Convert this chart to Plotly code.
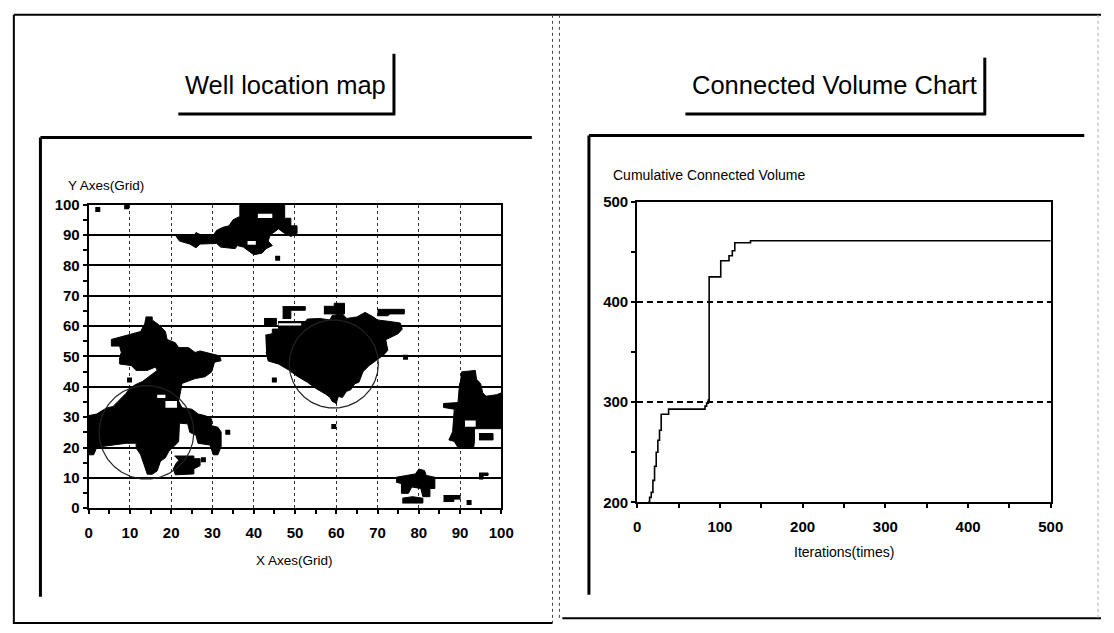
import numpy as np
import plotly.graph_objects as go

W, H = 1114, 633

# ---------------- Connected Volume Chart data ----------------
ITERATIONS = [13, 15, 17, 19, 21, 23, 25, 27, 29, 38, 82, 84, 86, 87, 101, 111, 115, 118, 137, 500]
CONNECTED_VOLUME = [200, 205, 210, 222, 236, 250, 262, 272, 288, 293, 296, 299, 302, 425,
                    441, 446, 451, 459, 461, 461]

# ---------------- Well location map data (grid units) ----------------
# connected sand bodies, outlined cell by cell
BLOB_WEST_X = [13.8, 15.4, 15.4, 17.0, 18.6, 19.0, 21.0, 21.8, 24.2, 25.8, 27.0, 29.8, 31.7, 32.1,
               30.5, 29.8, 28.2, 25.8, 22.6, 22.2, 21.8, 22.6, 25.0, 26.6, 28.2, 29.8, 29.8, 31.3,
               32.1, 32.1, 31.3, 30.2, 29.4, 26.5, 26.0, 24.5, 24.0, 22.0, 21.8, 19.4, 18.6, 17.4,
               16.6, 15.4, 14.2, 13.4, 12.6, 11.5, 11.5, 9.1, 3.1, 1.9, 1.2, 0.0, 0.0, 1.9, 3.1,
               4.3, 5.9, 7.5, 9.1, 9.9, 11.5, 13.0, 15.0, 16.6, 16.2, 14.2, 11.5, 10.3, 7.5, 7.5,
               7.9, 7.5, 5.5, 5.5, 9.9, 12.6, 13.4]
BLOB_WEST_Y = [63.0, 63.0, 62.0, 60.4, 58.2, 55.6, 54.5, 52.9, 52.9, 51.3, 51.8, 50.7, 50.2, 48.6,
               48.1, 44.9, 43.3, 42.7, 41.1, 37.9, 35.3, 33.1, 32.6, 31.0, 30.5, 29.4, 27.2, 26.7,
               25.1, 20.3, 17.6, 17.6, 20.8, 21.4, 24.0, 25.0, 27.8, 28.0, 21.9, 18.7, 16.6, 15.5,
               12.3, 11.2, 11.2, 14.4, 17.6, 19.8, 21.4, 21.4, 20.3, 19.8, 17.6, 17.6, 30.5, 31.0,
               32.0, 33.0, 33.5, 35.8, 37.9, 39.5, 40.8, 41.7, 43.8, 45.4, 46.5, 45.4, 45.4, 47.0,
               47.5, 49.7, 51.3, 53.4, 53.4, 55.6, 57.2, 58.2, 60.4]

BLOB_SOUTH_X = [20.8, 25.5, 25.5, 27.0, 27.0, 25.5, 25.5, 21.0, 20.5, 21.3, 21.8]
BLOB_SOUTH_Y = [17.2, 17.2, 16.3, 16.3, 14.0, 13.0, 11.3, 11.0, 13.0, 15.0, 15.6]

BLOB_NORTH_X = [36.5, 47.5, 47.5, 49.0, 49.0, 50.5, 50.5, 49.0, 47.5, 46.0, 44.0, 43.5, 44.5, 43.0,
                42.0, 40.0, 38.5, 37.5, 36.0, 35.5, 32.0, 31.0, 27.0, 26.0, 24.5, 22.0, 21.2, 25.5,
                26.0, 27.5, 30.0, 31.0, 32.5, 34.0, 35.0, 36.5]
BLOB_NORTH_Y = [100, 100, 95.5, 95.5, 93.0, 93.0, 90.5, 89.5, 90.5, 92.0, 90.0, 88.0, 86.5, 85.5,
                84.0, 83.5, 85.0, 86.0, 86.5, 85.5, 86.0, 87.2, 87.0, 85.8, 87.0, 88.0, 89.5, 89.5,
                90.8, 89.8, 89.5, 91.5, 92.5, 93.0, 95.0, 96.0]

BLOB_CENTRE_X = [42.8, 44.5, 44.5, 46.0, 46.0, 52.5, 53.0, 56.0, 58.5, 59.0, 61.5, 62.5, 65.0,
                 67.0, 69.0, 70.0, 73.0, 75.5, 76.0, 75.0, 73.5, 72.0, 72.5, 71.5, 70.0, 68.0,
                 66.5, 65.5, 64.5, 63.5, 62.5, 61.5, 60.5, 60.0, 59.0, 58.5, 57.5, 55.0, 53.0,
                 50.5, 48.5, 46.0, 43.5, 43.0]
BLOB_CENTRE_Y = [57.0, 57.5, 59.0, 59.0, 61.5, 61.5, 62.3, 62.5, 62.0, 63.5, 64.0, 62.5, 63.0,
                 64.5, 63.0, 62.0, 61.5, 61.0, 59.0, 57.5, 56.5, 55.5, 52.0, 50.5, 49.0, 47.0,
                 45.0, 41.5, 41.0, 39.0, 38.5, 36.5, 36.8, 34.5, 35.2, 36.5, 37.5, 39.5, 41.5,
                 43.5, 45.5, 47.5, 48.5, 51.5]

PATCH_CENTRE_A_X = [42.5, 45.5, 45.5, 42.5]
PATCH_CENTRE_A_Y = [60.5, 60.5, 62.5, 62.5]
PATCH_CENTRE_B_X = [47.0, 49.0, 49.0, 52.5, 52.5, 47.0]
PATCH_CENTRE_B_Y = [62.5, 62.5, 65.2, 65.2, 66.4, 66.4]
PATCH_CENTRE_C_X = [57.0, 59.5, 59.5, 62.0, 62.0, 57.0]
PATCH_CENTRE_C_Y = [66.5, 66.5, 67.5, 67.5, 64.0, 64.0]
PATCH_CENTRE_D_X = [70.0, 72.5, 73.0, 76.5, 76.5, 70.0]
PATCH_CENTRE_D_Y = [63.4, 63.4, 64.0, 64.0, 65.5, 65.5]

BLOB_EAST_X = [90.3, 93.7, 94.0, 95.0, 95.5, 96.3, 98.9, 100.0, 100.0, 93.5, 93.5, 93.3, 89.5,
               88.6, 87.3, 88.2, 88.6, 86.0, 86.0, 89.5, 89.9]
BLOB_EAST_Y = [44.9, 45.4, 42.5, 41.0, 38.0, 36.9, 37.4, 38.0, 26.2, 26.2, 22.0, 20.0, 20.0,
               22.0, 22.5, 25.2, 32.6, 33.2, 34.5, 34.8, 41.2]
BAR_EAST_X = [94.6, 98.0, 98.0, 94.6]
BAR_EAST_Y = [22.5, 22.5, 24.6, 24.6]

BLOB_SE_X = [74.5, 79.2, 80.0, 81.4, 81.8, 83.9, 83.9, 82.7, 82.7, 81.0, 80.5, 78.3, 77.5, 75.8,
             75.8, 74.5]
BLOB_SE_Y = [10.2, 11.3, 12.9, 12.4, 10.8, 10.2, 6.5, 6.5, 3.8, 3.8, 6.5, 7.0, 4.9, 4.9, 8.1, 8.6]
PATCH_SE_X = [76.0, 81.0, 81.0, 78.5, 76.0]
PATCH_SE_Y = [1.7, 1.7, 3.3, 3.8, 3.3]
PATCH_S_X = [86.0, 88.5, 88.5, 90.0, 90.0, 86.0]
PATCH_S_Y = [2.2, 2.2, 3.0, 3.0, 4.2, 4.2]
PATCH_E_X = [94.6, 95.6, 95.6, 96.8, 96.8, 94.6]
PATCH_E_Y = [9.6, 9.6, 10.8, 10.8, 11.6, 11.6]

# unconnected cells inside bodies
HOLES = [
    ([41.0, 44.5, 44.5, 41.0], [95.6, 95.6, 97.0, 97.0]),
    ([38.5, 40.5, 40.5, 38.5], [86.8, 86.8, 88.0, 88.0]),
    ([16.6, 18.6, 18.6, 16.6], [36.3, 36.3, 37.4, 37.4]),
    ([18.6, 21.4, 21.4, 18.6], [33.1, 33.1, 35.3, 35.3]),
    ([91.2, 93.8, 93.8, 91.2], [26.8, 26.8, 28.9, 28.9]),
    ([46.0, 51.5, 51.5, 46.0], [60.2, 60.2, 60.9, 60.9]),
]

# single isolated cells
CELL_X = [2.2, 9.2, 45.8, 45.0, 59.4, 33.7, 27.8, 9.9, 76.8, 92.2]
CELL_Y = [98.4, 99.3, 82.3, 42.2, 26.9, 25.0, 16.0, 42.2, 49.7, 1.9]

# well drainage circles: centre (grid) and radius (grid units, vertical)
WELL_X = [14.0, 59.4]
WELL_Y = [25.0, 47.5]
WELL_R = [15.4, 14.5]

# ---------------- layout geometry (pixels) ----------------
LEFT_BOX = (86, 505, 201, 513)     # x0, x1, ytop, ybottom
RIGHT_BOX = (643, 1063, 198, 507)


def dom_x(b):
    return [b[0] / W, b[1] / W]


def dom_y(b):
    return [1 - b[3] / H, 1 - b[2] / H]


def px(x):
    return x / W


def py(y):
    return 1 - y / H


SANS = "Liberation Sans, Arial, sans-serif"
tick_font = dict(family=SANS, size=15, color="black", weight="bold")

fig = go.Figure()

blobs = [
    (BLOB_WEST_X, BLOB_WEST_Y), (BLOB_SOUTH_X, BLOB_SOUTH_Y), (BLOB_NORTH_X, BLOB_NORTH_Y),
    (BLOB_CENTRE_X, BLOB_CENTRE_Y), (PATCH_CENTRE_A_X, PATCH_CENTRE_A_Y),
    (PATCH_CENTRE_B_X, PATCH_CENTRE_B_Y), (PATCH_CENTRE_C_X, PATCH_CENTRE_C_Y),
    (PATCH_CENTRE_D_X, PATCH_CENTRE_D_Y), (BLOB_EAST_X, BLOB_EAST_Y),
    (BLOB_SE_X, BLOB_SE_Y), (PATCH_SE_X, PATCH_SE_Y), (PATCH_S_X, PATCH_S_Y),
    (PATCH_E_X, PATCH_E_Y),
]
for bx, by in blobs:
    fig.add_trace(go.Scatter(x=bx, y=by, mode="lines", fill="toself", fillcolor="black",
                             line=dict(color="black", width=1), hoverinfo="skip",
                             showlegend=False, xaxis="x", yaxis="y"))
for hx, hy in HOLES:
    fig.add_trace(go.Scatter(x=hx, y=hy, mode="lines", fill="toself", fillcolor="white",
                             line=dict(color="white", width=0), hoverinfo="skip",
                             showlegend=False, xaxis="x", yaxis="y"))
fig.add_trace(go.Scatter(x=BAR_EAST_X, y=BAR_EAST_Y, mode="lines", fill="toself",
                         fillcolor="black", line=dict(color="black", width=1),
                         hoverinfo="skip", showlegend=False, xaxis="x", yaxis="y"))
fig.add_trace(go.Scatter(x=CELL_X, y=CELL_Y, mode="markers",
                         marker=dict(symbol="square", size=5, color="black"),
                         hoverinfo="skip", showlegend=False, xaxis="x", yaxis="y"))

# circles are round on screen, so convert the vertical radius to x grid units
ppu_x = (LEFT_BOX[1] - LEFT_BOX[0]) / 100.0
ppu_y = (LEFT_BOX[3] - LEFT_BOX[2]) / 100.0
theta = np.linspace(0, 2 * np.pi, 181)
for cx, cy, r in zip(WELL_X, WELL_Y, WELL_R):
    rx = r * ppu_y / ppu_x
    fig.add_trace(go.Scatter(x=cx + rx * np.cos(theta), y=cy + r * np.sin(theta), mode="lines",
                             line=dict(color="#222", width=1.2), hoverinfo="skip",
                             showlegend=False, xaxis="x", yaxis="y"))

fig.add_trace(go.Scatter(x=ITERATIONS, y=CONNECTED_VOLUME, mode="lines", line_shape="hv",
                         line=dict(color="black", width=1.6), hoverinfo="skip",
                         showlegend=False, xaxis="x2", yaxis="y2"))

axis_common = dict(showline=True, linecolor="black", linewidth=2, mirror=True,
                   zeroline=False, ticks="outside", ticklen=4, tickwidth=1.5,
                   tickcolor="black", tickfont=tick_font, fixedrange=True)
inner_ticks = dict(showline=False, showgrid=False, zeroline=False, ticks="inside", ticklen=4,
                   tickwidth=1.5, tickcolor="black", showticklabels=False, fixedrange=True)

fig.update_layout(
    width=W, height=H, margin=dict(l=0, r=0, t=0, b=0),
    paper_bgcolor="white", plot_bgcolor="white", showlegend=False,
    xaxis=dict(domain=dom_x(LEFT_BOX), anchor="y", range=[0, 100], dtick=10, tick0=0,
               showgrid=True, gridcolor="#333", griddash="dot", gridwidth=1,
               ticklabelstandoff=6,
               minor=dict(dtick=5, ticks="outside", ticklen=4, tickwidth=1.5,
                          tickcolor="black", showgrid=False), **axis_common),
    yaxis=dict(domain=dom_y(LEFT_BOX), anchor="x", range=[0, 100], dtick=10, tick0=0,
               showgrid=True, gridcolor="black", gridwidth=1.5,
               minor=dict(dtick=5, ticks="outside", ticklen=4, tickwidth=1.5,
                          tickcolor="black", showgrid=False), **axis_common),
    xaxis3=dict(overlaying="x", anchor="y", range=[0, 100], dtick=5, tick0=0, **inner_ticks),
    yaxis3=dict(overlaying="y", anchor="x", range=[0, 100], dtick=5, tick0=0, **inner_ticks),
    xaxis2=dict(domain=dom_x(RIGHT_BOX), anchor="y2", range=[0, 500], dtick=100, tick0=0,
                showgrid=False, ticklabelstandoff=6,
                minor=dict(dtick=50, ticks="outside", ticklen=4, tickwidth=1.5,
                           tickcolor="black", showgrid=False), **axis_common),
    yaxis2=dict(domain=dom_y(RIGHT_BOX), anchor="x2", range=[200, 500], dtick=100, tick0=200,
                showgrid=True, gridcolor="black", gridwidth=1.5, griddash="6px,4px",
                minor=dict(dtick=50, ticks="outside", ticklen=4, tickwidth=1.5,
                           tickcolor="black", showgrid=False), **axis_common),
    xaxis4=dict(overlaying="x2", anchor="y2", range=[0, 500], dtick=50, tick0=0, **inner_ticks),
    yaxis4=dict(overlaying="y2", anchor="x2", range=[200, 500], dtick=50, tick0=200,
                **inner_ticks),
)

# panel frames and title plates
shapes = []


def seg(x0, y0, x1, y1, width=2, dash="solid", color="black"):
    shapes.append(dict(type="line", xref="paper", yref="paper", x0=px(x0), y0=py(y0),
                       x1=px(x1), y1=py(y1), line=dict(color=color, width=width, dash=dash)))


seg(10, 6, 1114, 6, 2)
seg(10, 6, 10, 632, 2)
seg(10, 631, 557, 631, 2)
seg(557, 6, 557, 631, 1, "dot", "#444")
seg(564, 6, 564, 626, 1, "dot", "#444")
seg(567, 626, 1114, 626, 2)
seg(1111, 6, 1111, 626, 1, "dot", "#aaa")
# title plates
seg(177, 108, 397, 108, 3)
seg(396, 46, 396, 109, 3)
seg(692, 108, 997, 108, 3)
seg(996, 50, 996, 109, 3)
# chart frames
seg(37, 132, 536, 132, 3)
seg(37, 132, 37, 604, 3)
seg(594, 130, 1097, 130, 3)
seg(594, 130, 594, 602, 3)
fig.update_layout(shapes=shapes)

ann = [
    dict(text="Well location map", x=px(286), y=py(78), font=dict(family=SANS, size=25.5)),
    dict(text="Connected Volume Chart", x=px(843), y=py(78), font=dict(family=SANS, size=25.5)),
    dict(text="Y Axes(Grid)", x=px(63), y=py(181), xanchor="left",
         font=dict(family=SANS, size=13.5)),
    dict(text="X Axes(Grid)", x=px(295), y=py(567), font=dict(family=SANS, size=13.5)),
    dict(text="Cumulative Connected Volume", x=px(616), y=py(171), xanchor="left",
         font=dict(family=SANS, size=14)),
    dict(text="Iterations(times)", x=px(853), y=py(558), font=dict(family=SANS, size=14)),
]
for a in ann:
    a.setdefault("xanchor", "center")
    a.update(xref="paper", yref="paper", yanchor="middle", showarrow=False)
    a["font"]["color"] = "black"
fig.update_layout(annotations=ann)

fig.write_html("out.html")
